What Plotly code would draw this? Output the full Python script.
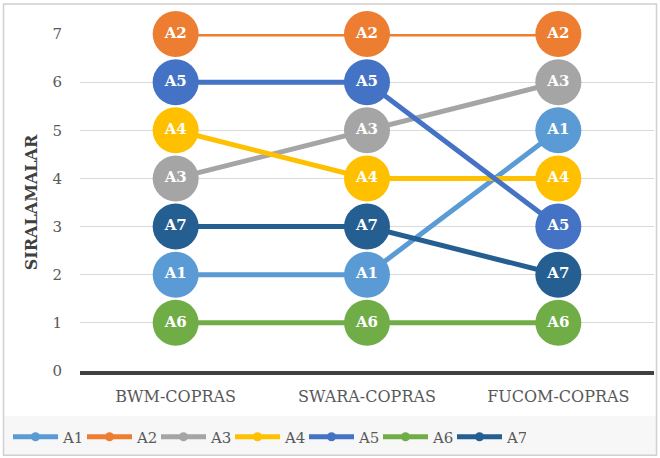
import plotly.graph_objects as go

categories = ["BWM-COPRAS", "SWARA-COPRAS", "FUCOM-COPRAS"]
series_names = ["A1", "A2", "A3", "A4", "A5", "A6", "A7"]
A1 = [2, 2, 5]
A2 = [7, 7, 7]
A3 = [4, 5, 6]
A4 = [5, 4, 4]
A5 = [6, 6, 3]
A6 = [1, 1, 1]
A7 = [3, 3, 2]
series_values = [A1, A2, A3, A4, A5, A6, A7]
colors = ["#5B9BD5", "#ED7D31", "#A5A5A5", "#FFC000", "#4472C4", "#70AD47", "#255E91"]
y_ticks = [0, 1, 2, 3, 4, 5, 6, 7]

W, H = 660, 458
L, R, T, B = 80, 654, 33.5, 371  # plot area in px

def px(x):
    return (x - L) / (R - L)

def py(y):
    return (B - y) / (B - T)

FONT = "DejaVu Serif"

fig = go.Figure()
for name, vals, c in zip(series_names, series_values, colors):
    fig.add_trace(go.Scatter(
        x=categories, y=vals, mode="lines+markers+text", name=name,
        text=[name] * len(vals), textposition="middle center",
        textfont=dict(family=FONT, size=15, color="white", weight="bold"),
        line=dict(color=c, width=5),
        marker=dict(color=c, size=46, line=dict(width=0)),
        cliponaxis=False, showlegend=False, legendgroup=name,
    ))
for name, c in zip(series_names, colors):
    fig.add_trace(go.Scatter(
        x=[None], y=[None], mode="lines+markers", name=name,
        line=dict(color=c, width=5), marker=dict(color=c, size=9),
        legendgroup=name, showlegend=True,
    ))

fig.update_layout(
    width=W, height=H,
    margin=dict(l=L, r=W - R, t=T, b=H - B),
    paper_bgcolor="white", plot_bgcolor="white",
    font=dict(family=FONT, size=16, color="#595959"),
    xaxis=dict(
        range=[-0.5, 2.5], showgrid=False, showline=True, linecolor="#404040",
        linewidth=4, ticks="outside", ticklen=8, tickcolor="rgba(0,0,0,0)",
        tickfont=dict(family=FONT, size=16, color="#595959"), zeroline=False,
    ),
    yaxis=dict(
        range=[0, 7], tickvals=y_ticks, showgrid=True, gridcolor="#D9D9D9",
        gridwidth=1, zeroline=False, showline=False, ticks="outside", ticklen=14,
        tickcolor="rgba(0,0,0,0)",
        tickfont=dict(family=FONT, size=15, color="#595959"),
        title=dict(text="<b>SIRALAMALAR</b>", font=dict(family=FONT, size=16, color="#404040"), standoff=10),
    ),
    legend=dict(
        orientation="h", xref="container", yref="container",
        x=8 / W, xanchor="left", y=1 - 437 / H, yanchor="middle",
        font=dict(family=FONT, size=15, color="#595959"),
        itemwidth=45, entrywidth=14, entrywidthmode="pixels",
        bgcolor="rgba(0,0,0,0)", tracegroupgap=0,
    ),
    shapes=[
        dict(type="rect", xref="paper", yref="paper", layer="below",
             x0=px(4), x1=px(656.5), y0=py(416), y1=py(455),
             fillcolor="#F7F7F7", line=dict(width=0)),
        dict(type="rect", xref="paper", yref="paper", layer="above",
             x0=px(3.5), x1=px(656.5), y0=py(3.5), y1=py(455.5),
             fillcolor="rgba(0,0,0,0)", line=dict(color="#D0D0D0", width=1.5)),
    ],
)

fig.write_html("out.html")
